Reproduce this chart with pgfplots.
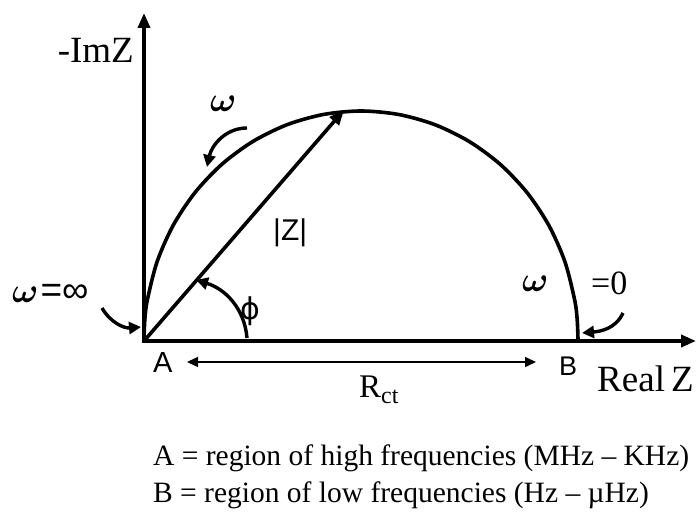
\documentclass[border=0pt]{standalone}
\usepackage{pgfplots}
\pgfplotsset{compat=1.18}
\usepackage{fontspec}
\setmainfont{Liberation Serif}
\setsansfont{Liberation Sans}
\newfontfamily\symfont{DejaVu Sans}
\usetikzlibrary{arrows.meta}
\newcommand{\fs}[1]{\fontsize{#1bp}{#1bp}\selectfont}
\newcommand{\om}{\scalebox{3.5}[3.5]{\boldmath$\omega$}}
\begin{document}
\begin{tikzpicture}[x=1bp,y=1bp]
\useasboundingbox (0,0) rectangle (699,518);
\begin{axis}[
  at={(0,0)}, anchor=south west,
  scale only axis, width=699bp, height=518bp,
  xmin=0, xmax=699, ymin=0, ymax=518, y dir=reverse,
  hide axis, clip=false,
]
% charge-transfer semicircle (Nyquist plot)
\addplot[black, line width=3.6bp, smooth, line join=round] coordinates {
  (144,340) (144.8,320.0) (147.3,300.2) (157.1,261.7) (173.1,225.5)
  (194.8,192.8) (221.5,164.6) (252.5,141.7) (286.8,124.8) (323.3,114.5)
  (361,111) (398.7,114.5) (435.2,124.8) (469.5,141.7) (500.5,164.6)
  (527.2,192.8) (548.9,225.5) (564.9,261.7) (574.7,300.2) (577.2,320.0)
  (578,340)
};
% axes
\addplot[black, line width=3.6bp, -{Triangle[length=15bp,width=12bp]}]
  coordinates {(144,343) (144,13)};
\addplot[black, line width=3.6bp, -{Triangle[length=15bp,width=12bp]}]
  coordinates {(142,341) (696,341)};
% |Z| vector
\addplot[black, line width=3.6bp, -{Triangle[length=15bp,width=12bp]}]
  coordinates {(144,341) (344,110)};
% R_ct span
\addplot[black, line width=1.5bp, {Triangle[length=11bp,width=10bp]}-{Triangle[length=11bp,width=10bp]}]
  coordinates {(187,362) (536,362)};

% curved pointers
\draw[black, line width=3.4bp, -{Triangle[length=12bp,width=12bp]}]
  (axis cs:247,128) to[out=180,in=78] (axis cs:207,167);
\draw[black, line width=3.4bp, -{Triangle[length=12bp,width=12bp]}]
  (axis cs:102,308) to[out=-60,in=185] (axis cs:141,327);
\draw[black, line width=3.4bp, -{Triangle[length=12bp,width=12bp]}]
  (axis cs:247,338) to[out=95,in=-17] (axis cs:196,280);
\draw[black, line width=3.4bp, -{Triangle[length=12bp,width=12bp]}]
  (axis cs:623,313) to[out=-115,in=5] (axis cs:582,333);

% labels
\node[anchor=base east, inner sep=0] at (axis cs:134,63) {\fs{37}-ImZ};
\node[anchor=base west, inner sep=0] at (axis cs:597,392) {\fs{37}Real\,Z};
\node[anchor=base west, inner sep=0] at (axis cs:359,397) {\fs{33}R\raisebox{-6bp}{\fs{24}ct}};
\node[anchor=base west, inner sep=0] at (axis cs:153,373) {\fs{29}\sffamily A};
\node[anchor=base west, inner sep=0] at (axis cs:559,376) {\fs{27}\sffamily B};
\node[anchor=base west, inner sep=0] at (axis cs:273,241) {\fs{30}\sffamily |Z|};
\node[anchor=base west, inner sep=0] at (axis cs:240,320) {\fs{30}\symfont ϕ};
\node[anchor=base west, inner sep=0] at (axis cs:210,112) {\om};
\node[anchor=base west, inner sep=0] at (axis cs:12,303) {\om\hspace{2bp}\fs{37}\sffamily =∞};
\node[anchor=base west, inner sep=0] at (axis cs:522,292) {\om};
\node[anchor=base west, inner sep=0] at (axis cs:591,295) {\fs{34}=0};

\node[anchor=base west, inner sep=0] at (axis cs:153,465) {\fs{29.5}A = region of high frequencies (MHz – KHz)};
\node[anchor=base west, inner sep=0] at (axis cs:153,502) {\fs{29.5}B = region of low frequencies (Hz – µHz)};
\end{axis}
\end{tikzpicture}
\end{document}
